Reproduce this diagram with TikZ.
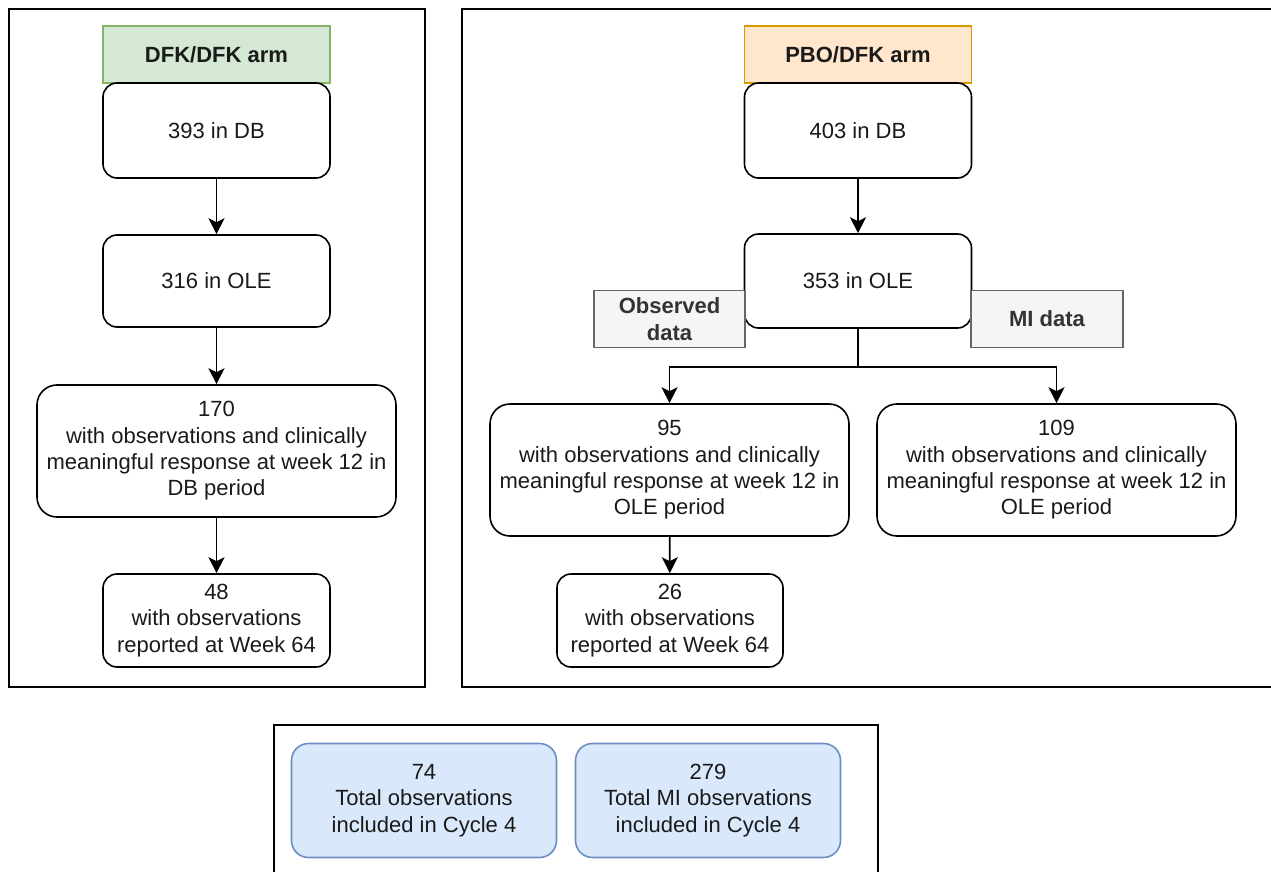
\documentclass[tikz,border=0pt]{standalone}
\usepackage{fontspec}
\setmainfont{Liberation Sans}
\usetikzlibrary{arrows.meta}
\definecolor{gfill}{HTML}{D5E8D4}
\definecolor{gdraw}{HTML}{82B366}
\definecolor{ofill}{HTML}{FFE6CC}
\definecolor{odraw}{HTML}{D79B00}
\definecolor{sfill}{HTML}{F5F5F5}
\definecolor{sdraw}{HTML}{666666}
\definecolor{stext}{HTML}{333333}
\definecolor{bfill}{HTML}{DAE8FC}
\definecolor{bdraw}{HTML}{6C8EBF}
\definecolor{txt}{HTML}{1A1A1A}
\begin{document}
\begin{tikzpicture}[x=0.5pt,y=-0.5pt,
  font=\fontsize{11pt}{13.2pt}\selectfont,
  frame/.style={draw=black, line width=1pt},
  box/.style={draw=black, line width=0.8pt, fill=white, rounded corners=7pt,
    align=center, inner sep=0pt, text=txt},
  bigbox/.style={box, rounded corners=10pt, minimum width=179.5pt, minimum height=66pt},
  smallbox/.style={box, minimum width=113.5pt},
  hdr/.style={draw, line width=0.8pt, align=center, inner sep=0pt, text=txt,
    minimum width=113.5pt, minimum height=28.5pt,
    font=\fontsize{11pt}{13.2pt}\selectfont\bfseries},
  tag/.style={draw=sdraw, fill=sfill, line width=0.8pt, align=center, inner sep=0pt,
    text=stext, minimum width=75.5pt, minimum height=28.5pt,
    font=\fontsize{11pt}{13.2pt}\selectfont\bfseries},
  total/.style={draw=bdraw, fill=bfill, line width=0.8pt, rounded corners=8.5pt,
    align=center, inner sep=0pt, text=txt, minimum width=132.5pt, minimum height=57pt},
  arr/.style={-{Stealth[length=8pt,width=8pt,inset=2pt]}, line width=0.9pt, draw=black}
]
\useasboundingbox (0,0) rectangle (1271,872);
\clip (0,0) rectangle (1271,872);
\fill[white] (0,0) rectangle (1271,872);

% frames
\draw[frame] (9,9) rectangle (425,687);
\draw[frame] (462,9) rectangle (1280,687);
\draw[frame] (274,725) rectangle (878,890);

% left arm
\node[hdr, fill=gfill, draw=gdraw] (hdrL) at (216.5,54.5) {DFK/DFK arm};
\node[smallbox, minimum height=47.5pt] (dbL) at (216.5,130.5) {393 in DB};
\node[smallbox, minimum height=46pt] (oleL) at (216.5,281) {316 in OLE};
\node[bigbox] (r170) at (216.5,451) {170\\with observations and clinically\\meaningful response at week 12 in\\DB period};
\node[smallbox, minimum height=46.5pt] (w48) at (216.5,620.5) {48\\with observations\\reported at Week 64};

\draw[arr] (dbL) -- (oleL);
\draw[arr] (oleL) -- (r170);
\draw[arr] (r170) -- (w48);

% right arm
\node[hdr, fill=ofill, draw=odraw] (hdrR) at (858,54.5) {PBO/DFK arm};
\node[smallbox, minimum height=47.5pt] (dbR) at (858,130.5) {403 in DB};
\node[smallbox, minimum height=47pt] (oleR) at (858,281) {353 in OLE};
\node[tag] (obs) at (669.5,319) {Observed\\data};
\node[tag, minimum width=76pt] (mi) at (1047,319) {MI data};
\node[bigbox] (r95) at (669.5,470) {95\\with observations and clinically\\meaningful response at week 12 in\\OLE period};
\node[bigbox] (r109) at (1056.5,470) {109\\with observations and clinically\\meaningful response at week 12 in\\OLE period};
\node[box, minimum width=113pt, minimum height=46.5pt] (w26) at (670,620.5) {26\\with observations\\reported at Week 64};

\coordinate (br) at (858,366.7);
\draw[arr] (dbR) -- (oleR);
\draw[line width=0.9pt] (oleR.south) -- (br);
\draw[arr] (br) -| (r95.north);
\draw[arr] (br) -| (r109.north);
\draw[arr] (r95) -- (w26);

% totals
\node[total] (t74) at (424,800.5) {74\\Total observations\\included in Cycle 4};
\node[total] (t279) at (708,800.5) {279\\Total MI observations\\included in Cycle 4};
\end{tikzpicture}
\end{document}
